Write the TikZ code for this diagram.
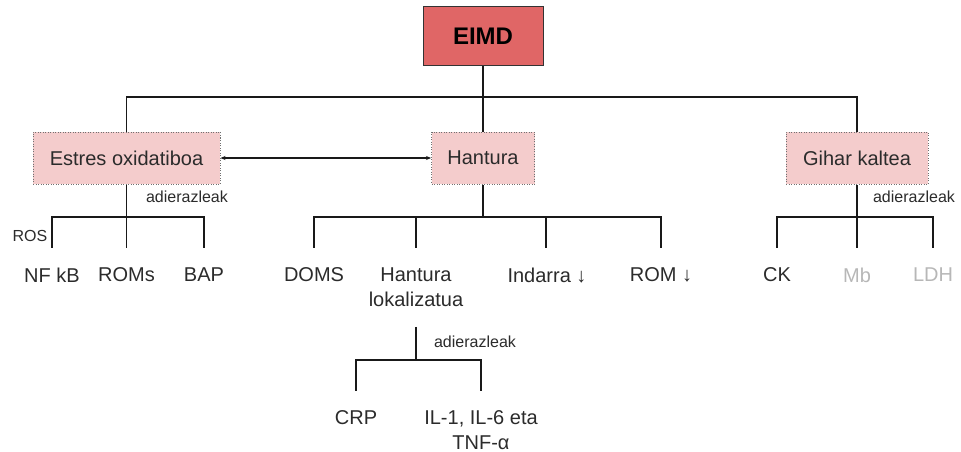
\documentclass[tikz,border=0pt]{standalone}
\usepackage{fontspec}
\setmainfont{Liberation Sans}
\usetikzlibrary{positioning,arrows.meta}
\definecolor{eimdred}{HTML}{E06666}
\definecolor{causepink}{HTML}{F4CCCC}
\definecolor{textgrey}{HTML}{2B2B2B}
\definecolor{fadedgrey}{HTML}{B7B7B7}
\definecolor{dotgrey}{HTML}{707070}

\begin{document}
\begin{tikzpicture}[
  x=1pt, y=-1pt,
  rootbox/.style = {draw=black!80, fill=eimdred, line width=1pt, minimum width=120pt, minimum height=59pt, font=\fontsize{24}{28}\selectfont\bfseries},
  cause/.style = {draw=dotgrey, fill=causepink, dash pattern=on 1pt off 1.5pt, line width=1pt, minimum height=52pt, text=textgrey, font=\fontsize{20}{24}\selectfont},
  indicator/.style = {anchor=north, inner sep=0pt, align=center, text=textgrey, font=\fontsize{20}{25.5}\selectfont},
  faded/.style = {indicator, text=fadedgrey},
  note/.style = {inner sep=0pt, text=textgrey, font=\fontsize{16}{19}\selectfont},
  link/.style = {line width=1.2pt, draw=black!90},
  leg/.style = {link, shorten >=19.5pt},
  stem/.style = {link, shorten <=19.5pt},
  twoway/.style = {link, {Stealth[length=5pt,width=4pt]}-{Stealth[length=5pt,width=4pt]}}
  ]
  \useasboundingbox (0,0) rectangle (961,452);

  \node[rootbox] (eimd) at (483,36.5) {EIMD};
  \node[cause, minimum width=187pt] (estres) at (126.5,158) {Estres oxidatiboa};
  \node[cause, minimum width=103pt] (hantura) at (483,158) {Hantura};
  \node[cause, minimum width=142pt] (gihar) at (857,158) {Gihar kaltea};

  \coordinate (rootbus) at (483,97);
  \draw[link] (eimd) -- (rootbus);
  \draw[link] (rootbus) -| (estres);
  \draw[link] (rootbus) -| (gihar);
  \draw[link] (rootbus) -- (hantura);
  \draw[twoway] (estres) -- (hantura);

  % oxidative stress
  \node[indicator] (nfkb) at (52,267.5) {NF kB};
  \node[indicator] (roms) at (126.5,267.5) {ROMs};
  \node[indicator] (bap) at (204,267.5) {BAP};
  \node[note] (ros) at (30,236) {ROS};
  \node[note] (estresnote) at (187,197) {adierazleak};
  \coordinate (estresbus) at (126.5,217);
  \draw[link] (estres) -- (estresbus);
  \draw[leg] (estresbus) -| (nfkb.north);
  \draw[leg] (estresbus) -- (roms.north);
  \draw[leg] (estresbus) -| (bap.north);

  % inflammation
  \node[indicator] (doms) at (314,267.5) {DOMS};
  \node[indicator] (hlok) at (416,267.5) {Hantura\\lokalizatua};
  \node[indicator] (indarra) at (547,267.5) {Indarra ↓};
  \node[indicator] (rom) at (661,267.5) {ROM ↓};
  \coordinate (hanturabus) at (483,217);
  \draw[link] (hantura) -- (hanturabus);
  \draw[leg] (hanturabus) -| (doms.north);
  \draw[leg] (hanturabus) -| (hlok.north);
  \draw[leg] (hanturabus) -| ([xshift=-1pt]indarra.north);
  \draw[leg] (hanturabus) -| (rom.north);

  % local inflammation
  \node[indicator] (crp) at (356,410) {CRP};
  \node[indicator] (cytokines) at (481,410) {IL-1, IL-6 eta\\TNF-α};
  \node[note] (hloknote) at (475,342) {adierazleak};
  \coordinate (hlokbus) at (416,360);
  \draw[stem] (hlok.south) -- (hlokbus);
  \draw[leg] (hlokbus) -| (crp.north);
  \draw[leg] (hlokbus) -| (cytokines.north);

  % muscle damage
  \node[indicator] (ck) at (777,267.5) {CK};
  \node[faded] (mb) at (857,267.5) {Mb};
  \node[faded] (ldh) at (933,267.5) {LDH};
  \node[note] (gihar_note) at (914,197) {adierazleak};
  \coordinate (giharbus) at (857,217);
  \draw[link] (gihar) -- (giharbus);
  \draw[leg] (giharbus) -| (ck.north);
  \draw[leg] (giharbus) -- (mb.north);
  \draw[leg] (giharbus) -| (ldh.north);
\end{tikzpicture}
\end{document}
